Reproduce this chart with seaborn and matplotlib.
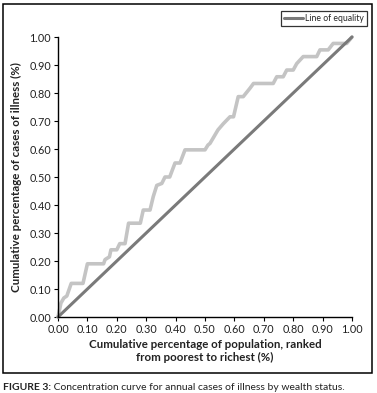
import numpy as np
import pandas as pd
import seaborn as sns
from matplotlib import pyplot as plt
from matplotlib.patches import Rectangle

# concentration curve
pop_share = [0, 0.01, 0.02, 0.03, 0.045, 0.085, 0.10, 0.155, 0.16, 0.175, 0.18, 0.20,
             0.21, 0.228, 0.24, 0.28, 0.29, 0.313, 0.324, 0.336, 0.353, 0.364, 0.38,
             0.398, 0.415, 0.432, 0.50, 0.51, 0.517, 0.544, 0.562, 0.585, 0.597, 0.613,
             0.63, 0.653, 0.665, 0.732, 0.744, 0.766, 0.778, 0.80, 0.812, 0.834, 0.88,
             0.891, 0.919, 0.936, 0.982, 1.0]
illness_share = [0, 0.05, 0.068, 0.075, 0.12, 0.12, 0.19, 0.19, 0.205, 0.215, 0.24, 0.24,
                 0.262, 0.262, 0.335, 0.335, 0.382, 0.382, 0.43, 0.47, 0.477, 0.50, 0.50,
                 0.55, 0.55, 0.597, 0.597, 0.614, 0.62, 0.668, 0.69, 0.715, 0.715, 0.787,
                 0.787, 0.817, 0.834, 0.834, 0.858, 0.858, 0.882, 0.882, 0.905, 0.93, 0.93,
                 0.954, 0.954, 0.977, 0.977, 1.0]
equality = [0, 1]

x_ticks = np.round(np.arange(0, 1.01, 0.1), 2)
y_ticks = np.round(np.arange(0, 1.01, 0.1), 2)

sns.set_style("ticks")
plt.rcParams['font.family'] = ['Lato', 'DejaVu Sans']

fig = plt.figure(figsize=(3.77, 3.93), dpi=100)
ax = fig.add_axes([58 / 377, 1 - 317 / 393, 294 / 377, 280 / 393])

curve = pd.DataFrame({'p': pop_share, 'c': illness_share})
eq = pd.DataFrame({'p': equality, 'c': equality})

sns.lineplot(data=curve, x='p', y='c', ax=ax, color='#c4c4c4', linewidth=2.6,
             sort=False, clip_on=False)
sns.lineplot(data=eq, x='p', y='c', ax=ax, color='#7a7a7a', linewidth=2.2,
             label='Line of equality', clip_on=False)

ax.set_xlim(0, 1)
ax.set_ylim(0, 1)
ax.set_xticks(x_ticks)
ax.set_yticks(y_ticks)
ax.set_xticklabels([f'{v:.2f}' for v in x_ticks])
ax.set_yticklabels([f'{v:.2f}' for v in y_ticks])
ax.tick_params(axis='both', labelsize=7.8, length=3, width=0.8, color='black',
               labelcolor='#222222', pad=2)
for s in ['top', 'right']:
    ax.spines[s].set_visible(False)
for s in ['left', 'bottom']:
    ax.spines[s].set_color('black')
    ax.spines[s].set_linewidth(1.0)

ax.set_xlabel('Cumulative percentage of population, ranked\nfrom poorest to richest (%)',
              fontsize=8.3, fontweight='bold', color='#222222', labelpad=3, linespacing=1.25)
ax.set_ylabel('Cumulative percentage of cases of illness (%)', fontsize=8.3,
              fontweight='bold', color='#222222', labelpad=5)

leg = ax.legend(loc='upper right', bbox_to_anchor=(367 / 377, 1 - 11 / 393),
                bbox_transform=fig.transFigure, fontsize=6.2, frameon=True,
                fancybox=False, handlelength=2.2, borderpad=0.35, handletextpad=0.2,
                borderaxespad=0)
leg.get_frame().set_edgecolor('black')
leg.get_frame().set_linewidth(0.9)

# outer frame round the chart
fig.patches.append(Rectangle((3 / 377, 1 - 373 / 393), 369 / 377, 369 / 393,
                             transform=fig.transFigure, fill=False,
                             edgecolor='black', linewidth=1.1))

# caption
t1 = fig.text(3 / 377, 1 - 387 / 393, 'FIGURE 3:', fontsize=7.5, fontweight='bold',
              va='center', ha='left', color='#222222')
fig.canvas.draw()
bb = t1.get_window_extent(fig.canvas.get_renderer())
fig.text(bb.x1 / fig.bbox.width, 1 - 387 / 393,
         ' Concentration curve for annual cases of illness by wealth status.',
         fontsize=7.5, va='center', ha='left', color='#222222')

fig.savefig('out.png', dpi=100)
